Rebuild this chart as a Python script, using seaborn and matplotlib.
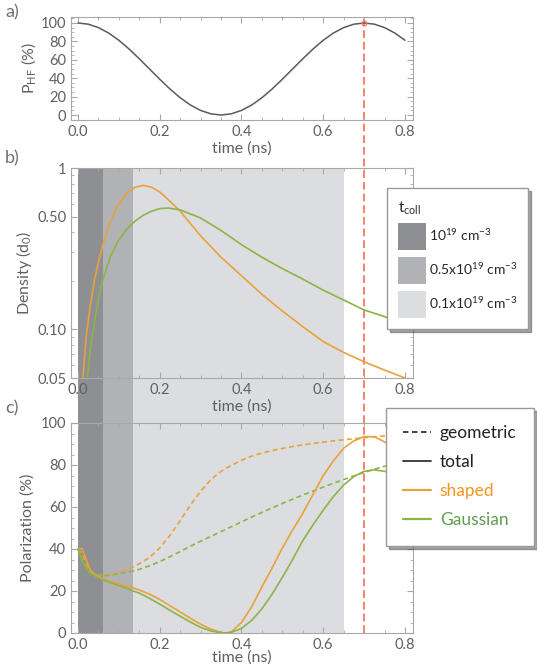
import numpy as np
import pandas as pd
import seaborn as sns
import matplotlib.pyplot as plt
from matplotlib.patches import Patch
from matplotlib.lines import Line2D
from matplotlib.ticker import MultipleLocator, FixedLocator, LogLocator, NullFormatter

# ---- data ----
# a) hyperfine polarisation
time_a = [0.0, 0.025, 0.05, 0.075, 0.1, 0.125, 0.15, 0.175, 0.2, 0.225, 0.25, 0.275,
          0.3, 0.325, 0.35, 0.375, 0.4, 0.425, 0.45, 0.475, 0.5, 0.525, 0.55, 0.575,
          0.6, 0.625, 0.65, 0.675, 0.7, 0.725, 0.75, 0.775, 0.8]
p_hf = [100, 98.7, 95, 89.1, 81.2, 71.7, 61.1, 50, 38.9, 28.3, 18.8, 10.9,
        5, 1.3, 0, 1.3, 5, 10.9, 18.8, 28.3, 38.9, 50, 61.1, 71.7,
        81.2, 89.1, 95, 98.7, 100, 98.7, 95, 89.1, 81.2]

# b) density
time_dens_shaped = [0.012, 0.02, 0.03, 0.04, 0.05, 0.06, 0.08, 0.10, 0.12, 0.14, 0.16, 0.18,
                    0.20, 0.22, 0.25, 0.30, 0.35, 0.40, 0.45, 0.50, 0.55, 0.60, 0.65, 0.70,
                    0.75, 0.80]
dens_shaped = [0.05, 0.09, 0.14, 0.20, 0.26, 0.33, 0.47, 0.60, 0.70, 0.76, 0.78, 0.76,
               0.71, 0.64, 0.54, 0.38, 0.28, 0.215, 0.165, 0.13, 0.104, 0.084, 0.072, 0.063,
               0.056, 0.05]
time_dens_gauss = [0.023, 0.03, 0.04, 0.05, 0.06, 0.08, 0.10, 0.12, 0.14, 0.16, 0.18, 0.20,
                   0.22, 0.25, 0.30, 0.35, 0.40, 0.45, 0.50, 0.55, 0.60, 0.65, 0.70, 0.75,
                   0.80]
dens_gauss = [0.05, 0.075, 0.11, 0.155, 0.20, 0.285, 0.36, 0.42, 0.47, 0.51, 0.54, 0.56,
              0.565, 0.55, 0.49, 0.41, 0.335, 0.28, 0.238, 0.205, 0.175, 0.152, 0.132, 0.12,
              0.108]

# c) polarisation
time_c = [0, 0.01, 0.02, 0.03, 0.04, 0.05, 0.06, 0.08, 0.10, 0.12, 0.135, 0.15, 0.175,
          0.20, 0.225, 0.25, 0.275, 0.30, 0.325, 0.35, 0.36, 0.375, 0.40, 0.425, 0.45,
          0.475, 0.50, 0.525, 0.55, 0.575, 0.60, 0.625, 0.65, 0.675, 0.70, 0.725, 0.75,
          0.775, 0.80]
pol_shaped_total = [40, 40.3, 35, 30, 28, 27, 26, 24.6, 23.4, 22.3, 21.5, 20.5, 18.5,
                    16, 13, 10, 7, 4.2, 1.8, 0.3, 0, 0.5, 5, 12.5, 22,
                    31, 40.5, 49, 57, 66, 75, 82, 88, 91.5, 93.5, 93.5, 91,
                    88, 85]
pol_gauss_total = [40, 34.5, 30.5, 28.5, 27.3, 26.3, 25.5, 24, 22.6, 21.2, 20, 19, 16.5,
                   13.7, 10.8, 8, 5.2, 2.7, 1, 0.1, 0, 0.3, 2.2, 6, 11.5,
                   18.5, 26.5, 35, 44, 51.5, 58.5, 65, 70.5, 74.5, 77, 77.7, 77,
                   76, 74.5]
pol_shaped_geom = [40, 38, 33, 29.5, 28, 27.5, 27.5, 28, 29, 30.5, 31.5, 33, 36,
                   40.5, 46.5, 53.5, 61, 67.5, 73, 77, 78.2, 79.8, 82.3, 84.2, 85.7,
                   86.9, 87.9, 88.8, 89.6, 90.3, 90.9, 91.5, 92, 92.5, 93, 93.4, 93.8,
                   94.1, 94.4]
pol_gauss_geom = [40, 35, 31, 28.8, 27.8, 27.3, 27.2, 27.5, 28.2, 29, 29.6, 30.3, 32,
                  34, 36.3, 38.8, 41.3, 43.7, 46, 48.3, 49.2, 50.6, 52.9, 55.2, 57.4,
                  59.6, 61.7, 63.7, 65.7, 67.6, 69.5, 71.3, 73.1, 74.8, 76.4, 78, 79.4,
                  80.6, 81.8]

# collision-time regions (ns) and pi-pulse time
coll_starts = [0.0, 0.06, 0.135]
coll_ends = [0.06, 0.135, 0.65]
coll_labels = ['10$^{19}$ cm$^{-3}$', '0.5x10$^{19}$ cm$^{-3}$', '0.1x10$^{19}$ cm$^{-3}$']
t_pulse = 0.70

# ---- style ----
sns.set_style('ticks')
plt.rcParams['font.family'] = ['Lato', 'DejaVu Sans']
plt.rcParams['mathtext.default'] = 'regular'
plt.rcParams['axes.edgecolor'] = '#a8a8a8'
plt.rcParams['xtick.color'] = '#a8a8a8'
plt.rcParams['ytick.color'] = '#a8a8a8'
plt.rcParams['xtick.labelcolor'] = '#606060'
plt.rcParams['ytick.labelcolor'] = '#606060'
plt.rcParams['axes.labelcolor'] = '#606060'

orange = '#E9A23B'
green = '#8DB445'
gray_line = '#5a5a5a'
red = '#F4826E'
shade_cols = ['#8e8f93', '#b1b2b5', '#dcdde0']

W, H = 537, 666
fig = plt.figure(figsize=(W / 100, H / 100), dpi=100)


def rect(l, t, r, b):
    return [l / W, 1 - b / H, (r - l) / W, (b - t) / H]


xlim = (-0.0171, 0.8196)

# background axes for shading and the dashed pulse line
ax_bg = fig.add_axes(rect(71, 17, 413, 633))
ax_bg.set_xlim(xlim)
ax_bg.set_ylim(0, 1)
ax_bg.axis('off')
shade_top = (633 - 168) / (633 - 17)
for x0, x1, c in zip(coll_starts, coll_ends, shade_cols):
    ax_bg.axvspan(x0, x1, ymin=0, ymax=shade_top, color=c, lw=0)
ax_bg.axvline(t_pulse, color=red, ls=(0, (4, 2)), lw=1.4)

ax_a = fig.add_axes(rect(71, 17, 413, 120))
ax_b = fig.add_axes(rect(71, 168, 413, 378))
ax_c = fig.add_axes(rect(71, 423, 413, 633))

for ax in (ax_a, ax_b, ax_c):
    ax.set_facecolor('none')
    ax.set_xlim(xlim)
    ax.xaxis.set_major_locator(MultipleLocator(0.2))
    ax.xaxis.set_minor_locator(MultipleLocator(0.05))
    ax.xaxis.set_major_formatter(plt.FuncFormatter(lambda v, p: f'{v:.1f}'))
    ax.tick_params(which='both', direction='in', top=True, right=True, labelsize=10.5)
    ax.tick_params(which='major', length=4, width=0.8)
    ax.tick_params(which='minor', length=2, width=0.6)
    for s in ax.spines.values():
        s.set_linewidth(0.8)
    ax.set_xlabel('time (ns)', fontsize=11.5, labelpad=2)

# a)
sns.lineplot(x=time_a, y=p_hf, ax=ax_a, color=gray_line, lw=1.1)
ax_a.set_ylim(-5.4, 106.5)
ax_a.yaxis.set_major_locator(MultipleLocator(20))
ax_a.yaxis.set_minor_locator(MultipleLocator(5))
ax_a.set_ylabel('P$_{HF}$ (%)', fontsize=11.5, labelpad=2)
ax_a.plot([t_pulse], [100], marker='o', ms=3.5, mfc='none', mec=red, mew=0.9)

# b)
sns.lineplot(x=time_dens_shaped, y=dens_shaped, ax=ax_b, color=orange, lw=1.2)
sns.lineplot(x=time_dens_gauss, y=dens_gauss, ax=ax_b, color=green, lw=1.2)
ax_b.set_yscale('log')
ax_b.set_ylim(0.05, 1)
ax_b.yaxis.set_major_locator(FixedLocator([0.05, 0.1, 0.5, 1]))
ax_b.yaxis.set_major_formatter(plt.FixedFormatter(['0.05', '0.10', '0.50', '1']))
ax_b.yaxis.set_minor_locator(LogLocator(base=10, subs=np.arange(2, 10)))
ax_b.yaxis.set_minor_formatter(NullFormatter())
ax_b.set_ylabel('Density (d$_0$)', fontsize=11.5, labelpad=2)

# c)
sns.lineplot(x=time_c, y=pol_shaped_geom, ax=ax_c, color=orange, lw=1.2, ls=(0, (3, 2)))
sns.lineplot(x=time_c, y=pol_gauss_geom, ax=ax_c, color=green, lw=1.2, ls=(0, (3, 2)))
sns.lineplot(x=time_c, y=pol_shaped_total, ax=ax_c, color=orange, lw=1.2)
sns.lineplot(x=time_c, y=pol_gauss_total, ax=ax_c, color=green, lw=1.2)
ax_c.set_ylim(0, 100)
ax_c.yaxis.set_major_locator(MultipleLocator(20))
ax_c.yaxis.set_minor_locator(MultipleLocator(5))
ax_c.set_ylabel('Polarization (%)', fontsize=11.5, labelpad=4)
ax_c.set_xlabel('time (ns)', fontsize=11.5, labelpad=-1)

# panel letters
for lab, y in (('a)', 12), ('b)', 158), ('c)', 408)):
    fig.text(5 / W, 1 - y / H, lab, fontsize=13, color='#707070', va='center')

# legend for collision times
patches = [Patch(facecolor=c, edgecolor='none') for c in shade_cols]
leg_b = fig.legend(patches, coll_labels, loc='upper left',
                   bbox_to_anchor=(387 / W, 1 - 188 / H), borderaxespad=0,
                   title='t$_{coll}$', fontsize=10, title_fontsize=11,
                   frameon=True, fancybox=False, shadow=True, edgecolor='#999999',
                   framealpha=1, handlelength=2.0, handleheight=2.6, handletextpad=0.2,
                   labelspacing=0.5, borderpad=0.8)
leg_b._legend_box.align = 'left'

# legend for line styles
handles = [Line2D([], [], color='#333333', lw=1.3, ls=(0, (3, 2))),
           Line2D([], [], color='#333333', lw=1.3),
           Line2D([], [], color=orange, lw=1.6),
           Line2D([], [], color=green, lw=1.6)]
leg_c = fig.legend(handles, ['geometric', 'total', 'shaped', 'Gaussian'], loc='upper left',
                   bbox_to_anchor=(386 / W, 1 - 408 / H), borderaxespad=0, fontsize=12.5,
                   frameon=True, fancybox=False, shadow=True, edgecolor='#999999',
                   framealpha=1, handlelength=1.6, handletextpad=0.5, labelspacing=0.75,
                   borderpad=1.0)
for txt, c in zip(leg_c.get_texts(), ['#222222', '#222222', '#F7941D', '#5E9E4E']):
    txt.set_color(c)

fig.savefig('out.png', dpi=100)
